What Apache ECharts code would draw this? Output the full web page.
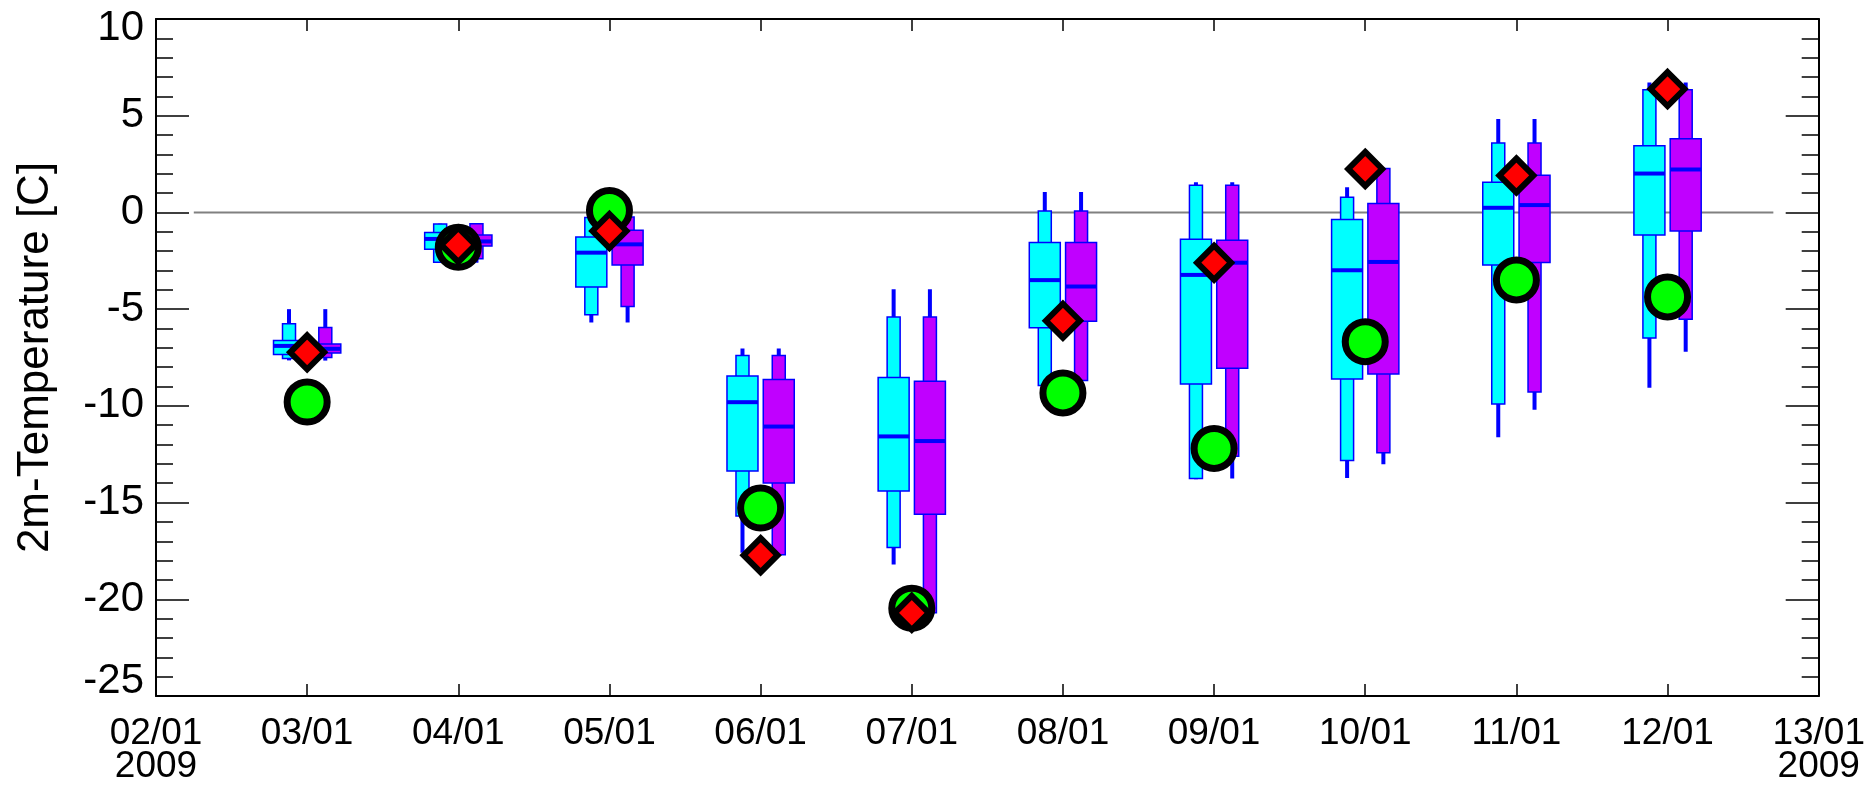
<!DOCTYPE html>
<html>
<head>
<meta charset="utf-8">
<script src="https://cdn.jsdelivr.net/npm/echarts@6/dist/echarts.min.js"></script>
<style>
html,body{margin:0;padding:0;background:#fff;}
#chart{width:1868px;height:785px;}
</style>
</head>
<body>
<div id="chart"></div>
<script>
// ---- data ----
const xTickValues = [2,3,4,5,6,7,8,9,10,11,12,13];
const xTickLabels = ['02/01\n2009','03/01','04/01','05/01','06/01','07/01','08/01','09/01','10/01','11/01','12/01','13/01\n2009'];
const yTickLabels = ['-25','-20','-15','-10','-5','0','5','10'];
const days = [3,4,5,6,7,8,9,10,11,12];

const cyanMin = [-7.65, -2.6, -5.69, -17.6, -18.2, -9.0, -13.8, -13.73, -11.62, -9.07];
const cyanP10 = [-7.55, -2.58, -5.29, -15.7, -17.32, -8.95, -13.76, -12.82, -9.9, -6.49];
const cyanQ1  = [-7.35, -1.9, -3.85, -13.37, -14.4, -5.96, -8.87, -8.61, -2.72, -1.17];
const cyanMed = [-6.9, -1.37, -2.08, -9.81, -11.58, -3.5, -3.23, -2.99, 0.24, 2.01];
const cyanQ3  = [-6.62, -1.04, -1.27, -8.45, -8.54, -1.56, -1.39, -0.36, 1.56, 3.45];
const cyanP90 = [-5.75, -0.6, -0.26, -7.4, -5.4, 0.07, 1.41, 0.79, 3.59, 6.34];
const cyanMax = [-5.0, -0.58, -0.2, -7.03, -3.97, 1.05, 1.56, 1.3, 4.83, 6.72];

const purpleMin = [-7.66, -2.6, -5.69, -17.75, -20.8, -8.7, -13.76, -13.02, -10.2, -7.2];
const purpleP10 = [-7.5, -2.4, -4.86, -17.7, -20.69, -8.69, -12.61, -12.42, -9.29, -5.52];
const purpleQ1  = [-7.27, -1.74, -2.72, -13.99, -15.6, -5.63, -8.06, -8.35, -2.59, -0.96];
const purpleMed = [-7.05, -1.5, -1.65, -11.07, -11.82, -3.83, -2.6, -2.56, 0.38, 2.22];
const purpleQ3  = [-6.8, -1.17, -0.92, -8.64, -8.73, -1.56, -1.44, 0.46, 1.92, 3.81];
const purpleP90 = [-5.95, -0.58, -0.24, -7.4, -5.4, 0.07, 1.41, 2.27, 3.59, 6.34];
const purpleMax = [-5.0, -0.55, -0.2, -7.03, -3.97, 1.05, 1.56, 2.3, 4.83, 6.72];

const circleValues  = [-9.8, -1.8, 0.1, -15.28, -20.46, -9.33, -12.2, -6.68, -3.49, -4.37];
const diamondValues = [-7.23, -1.68, -0.96, -17.72, -20.7, -5.6, -2.6, 2.25, 1.91, 6.38];

const zeroLineX = [2.25, 12.7];

// ---- chart ----
const FONT = "'Liberation Sans', Arial, sans-serif";
const BLUE = '#0000ff';

function boxData(mn, p10, q1, md, q3, p90, mx) {
  return days.map((d, i) => [d, mn[i], p10[i], q1[i], md[i], q3[i], p90[i], mx[i]]);
}

function makeRender(offset, color) {
  return function (params, api) {
    const x = api.value(0) + offset;
    const c = v => api.coord([x, v]);
    const cx = c(api.value(1))[0];
    const yMin = c(api.value(1))[1];
    const yP10 = c(api.value(2))[1];
    const yQ1 = c(api.value(3))[1];
    const yMed = c(api.value(4))[1];
    const yQ3 = c(api.value(5))[1];
    const yP90 = c(api.value(6))[1];
    const yMax = c(api.value(7))[1];
    return {
      type: 'group',
      children: [
        { type: 'rect', shape: { x: cx - 2, y: yMax, width: 4, height: yMin - yMax }, style: { fill: BLUE } },
        { type: 'rect', shape: { x: cx - 6.5, y: yP90, width: 13, height: yP10 - yP90 }, style: { fill: color, stroke: BLUE, lineWidth: 1.5 } },
        { type: 'rect', shape: { x: cx - 15.5, y: yQ3, width: 31, height: yQ1 - yQ3 }, style: { fill: color, stroke: BLUE, lineWidth: 1.5 } },
        { type: 'rect', shape: { x: cx - 15.5, y: yMed - 2, width: 31, height: 4 }, style: { fill: BLUE } }
      ]
    };
  };
}

const axisLine = { show: true, onZero: false, lineStyle: { color: '#000', width: 2 } };

const chart = echarts.init(document.getElementById('chart'), null, { renderer: 'canvas' });
chart.setOption({
  animation: false,
  backgroundColor: '#fff',
  grid: { left: 156, right: 48, top: 19, bottom: 87, containLabel: false },
  xAxis: [
    {
      type: 'value', position: 'bottom', min: 2, max: 13, interval: 1,
      axisLine: axisLine,
      axisTick: { show: true, inside: true, length: 12, lineStyle: { color: '#000', width: 1.5 } },
      splitLine: { show: false },
      axisLabel: {
        show: true, margin: 21, color: '#000', fontFamily: FONT, fontSize: 37, lineHeight: 33,
        hideOverlap: false, showMinLabel: true, showMaxLabel: true,
        formatter: v => { const i = xTickValues.indexOf(Math.round(v)); return i >= 0 ? xTickLabels[i] : ''; }
      }
    },
    {
      type: 'value', position: 'top', min: 2, max: 13, interval: 1,
      axisLine: axisLine,
      axisTick: { show: true, inside: true, length: 12, lineStyle: { color: '#000', width: 1.5 } },
      axisLabel: { show: false }, splitLine: { show: false }
    }
  ],
  yAxis: [
    {
      type: 'value', position: 'left', min: -25, max: 10, interval: 5,
      axisLine: axisLine,
      axisTick: { show: true, inside: true, length: 33, lineStyle: { color: '#000', width: 1.5 } },
      minorTick: { show: true, splitNumber: 5, length: 17, lineStyle: { color: '#000', width: 1.5 } },
      splitLine: { show: false },
      name: '2m-Temperature [C]', nameLocation: 'middle', nameGap: 98,
      nameTextStyle: { color: '#000', fontFamily: FONT, fontSize: 44 },
      axisLabel: {
        show: true, margin: 12, color: '#000', fontFamily: FONT, fontSize: 42,
        showMinLabel: true, showMaxLabel: true,
        formatter: v => {
          const i = Math.round((v + 25) / 5);
          const t = yTickLabels[i];
          if (i === yTickLabels.length - 1) return '{top|' + t + '}';
          if (i === 0) return '{bot|' + t + '}';
          return t;
        },
        rich: {
          top: { fontFamily: FONT, fontSize: 42, color: '#000', padding: [18, 0, 0, 0] },
          bot: { fontFamily: FONT, fontSize: 42, color: '#000', padding: [0, 0, 29, 0] }
        }
      }
    },
    {
      type: 'value', position: 'right', min: -25, max: 10, interval: 5,
      axisLine: axisLine,
      axisTick: { show: true, inside: true, length: 33, lineStyle: { color: '#000', width: 1.5 } },
      minorTick: { show: true, splitNumber: 5, length: 17, lineStyle: { color: '#000', width: 1.5 } },
      splitLine: { show: false },
      axisLabel: { show: false }
    }
  ],
  series: [
    {
      type: 'line', xAxisIndex: 0, yAxisIndex: 0, z: 1,
      data: zeroLineX.map(x => [x, 0]), symbol: 'none',
      lineStyle: { color: '#808080', width: 2 }, silent: true
    },
    {
      type: 'custom', xAxisIndex: 0, yAxisIndex: 0, z: 2,
      renderItem: makeRender(-0.12, '#00ffff'),
      encode: { x: 0, y: [1, 2, 3, 4, 5, 6, 7] },
      data: boxData(cyanMin, cyanP10, cyanQ1, cyanMed, cyanQ3, cyanP90, cyanMax)
    },
    {
      type: 'custom', xAxisIndex: 0, yAxisIndex: 0, z: 2,
      renderItem: makeRender(0.12, '#c000ff'),
      encode: { x: 0, y: [1, 2, 3, 4, 5, 6, 7] },
      data: boxData(purpleMin, purpleP10, purpleQ1, purpleMed, purpleQ3, purpleP90, purpleMax)
    },
    {
      type: 'scatter', xAxisIndex: 0, yAxisIndex: 0, z: 3,
      symbol: 'circle', symbolSize: 40,
      itemStyle: { color: '#00ff00', borderColor: '#000', borderWidth: 7, opacity: 1 },
      data: days.map((d, i) => [d, circleValues[i]])
    },
    {
      type: 'scatter', xAxisIndex: 0, yAxisIndex: 0, z: 4,
      symbol: 'diamond', symbolSize: 34,
      itemStyle: { color: '#ff0000', borderColor: '#000', borderWidth: 6, opacity: 1, borderJoin: 'miter' },
      data: days.map((d, i) => [d, diamondValues[i]])
    }
  ]
});
</script>
</body>
</html>
